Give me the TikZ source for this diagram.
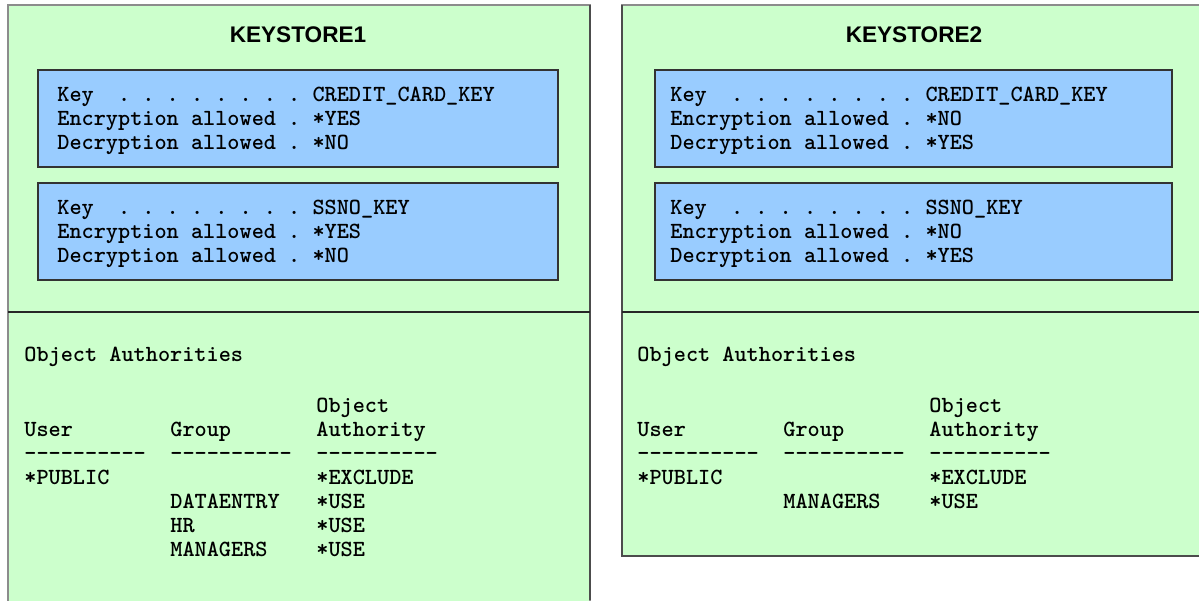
\documentclass[tikz,border=0pt]{standalone}
\usepackage{fontspec}
\newfontfamily\headfont{Liberation Sans}
\usetikzlibrary{positioning}
\definecolor{storegreen}{HTML}{CCFFCC}
\definecolor{keyblue}{HTML}{99CCFF}
\newcommand{\dashline}{\foreach \d in {1,...,10}{-\kern0pt}}

\begin{document}
\frenchspacing
\begin{tikzpicture}[
  x=0.5pt,
  y=-0.5pt,
  store/.style={fill=storegreen, draw=black!45, line width=1pt},
  storeedge/.style={draw=black!70, line width=1pt},
  keybox/.style={fill=keyblue, draw=black!80, line width=1pt},
  split/.style={draw=black!85, line width=1pt},
  head/.style={font=\headfont\bfseries\fontsize{11.3}{13}\selectfont, inner sep=0pt},
  mono/.style={font=\ttfamily\bfseries\fontsize{11.57}{14}\selectfont, anchor=base west, inner sep=0pt}
  ]
\useasboundingbox (0,0) rectangle (1199,600);

% the two keystores, both run off the page
\begin{scope}
\clip (0,0) rectangle (1199,600);
\draw[store] (8,5) rectangle (590,650);
\draw[store] (622,5) rectangle (1230,556);
\end{scope}
% darker right / bottom edges
\draw[storeedge] (590,5) -- (590,600);
\draw[storeedge] (622,5) -- (622,556) -- (1199,556);
\draw[split] (8,312) -- (590,312);
\draw[split] (622,312) -- (1199,312);

%%%%%%%%%%  KEYSTORE1
\node[head] (ks1) at (298,35) {KEYSTORE1};

\draw[keybox] (38,70) rectangle (558,167);
\node[mono] (ks1ccname) at (57,101.5) {Key~~. . . . . . . . CREDIT\_CARD\_KEY};
\node[mono] (ks1ccenc) at (57,125.3) {Encryption allowed . *YES};
\node[mono] (ks1ccdec) at (57,149.2) {Decryption allowed . *NO};

\draw[keybox] (38,183) rectangle (558,280);
\node[mono] (ks1snname) at (57,214.5) {Key~~. . . . . . . . SSNO\_KEY};
\node[mono] (ks1snenc) at (57,238.3) {Encryption allowed . *YES};
\node[mono] (ks1sndec) at (57,262.2) {Decryption allowed . *NO};

% authorities - columns 24 / 170 / 316
\node[mono] (ks1auth) at (24,361.5) {Object Authorities};
\node[mono] (ks1hobj) at (316,412.5) {Object};
\node[mono] (ks1huser) at (24,436.5) {User};
\node[mono] (ks1hgroup) at (170,436.5) {Group};
\node[mono] (ks1hauth) at (316,436.5) {Authority};
\node[mono] (ks1du) at (24,460.5) {\dashline};
\node[mono] (ks1dg) at (170,460.5) {\dashline};
\node[mono] (ks1da) at (316,460.5) {\dashline};
\node[mono] (ks1pub) at (24,484.5) {*PUBLIC};
\node[mono] (ks1pubaut) at (316,484.5) {*EXCLUDE};
\node[mono] (ks1data) at (170,508.5) {DATAENTRY};
\node[mono] (ks1dataaut) at (316,508.5) {*USE};
\node[mono] (ks1hr) at (170,532.5) {HR};
\node[mono] (ks1hraut) at (316,532.5) {*USE};
\node[mono] (ks1mgr) at (170,556.5) {MANAGERS};
\node[mono] (ks1mgraut) at (316,556.5) {*USE};

%%%%%%%%%%  KEYSTORE2
\node[head] (ks2) at (914,35) {KEYSTORE2};

\draw[keybox] (655,70) rectangle (1172,167);
\node[mono] (ks2ccname) at (670,101.5) {Key~~. . . . . . . . CREDIT\_CARD\_KEY};
\node[mono] (ks2ccenc) at (670,125.3) {Encryption allowed . *NO};
\node[mono] (ks2ccdec) at (670,149.2) {Decryption allowed . *YES};

\draw[keybox] (655,183) rectangle (1172,280);
\node[mono] (ks2snname) at (670,214.5) {Key~~. . . . . . . . SSNO\_KEY};
\node[mono] (ks2snenc) at (670,238.3) {Encryption allowed . *NO};
\node[mono] (ks2sndec) at (670,262.2) {Decryption allowed . *YES};

% authorities - columns 637 / 783 / 929
\node[mono] (ks2auth) at (637,361.5) {Object Authorities};
\node[mono] (ks2hobj) at (929,412.5) {Object};
\node[mono] (ks2huser) at (637,436.5) {User};
\node[mono] (ks2hgroup) at (783,436.5) {Group};
\node[mono] (ks2hauth) at (929,436.5) {Authority};
\node[mono] (ks2du) at (637,460.5) {\dashline};
\node[mono] (ks2dg) at (783,460.5) {\dashline};
\node[mono] (ks2da) at (929,460.5) {\dashline};
\node[mono] (ks2pub) at (637,484.5) {*PUBLIC};
\node[mono] (ks2pubaut) at (929,484.5) {*EXCLUDE};
\node[mono] (ks2mgr) at (783,508.5) {MANAGERS};
\node[mono] (ks2mgraut) at (929,508.5) {*USE};

\end{tikzpicture}
\end{document}
